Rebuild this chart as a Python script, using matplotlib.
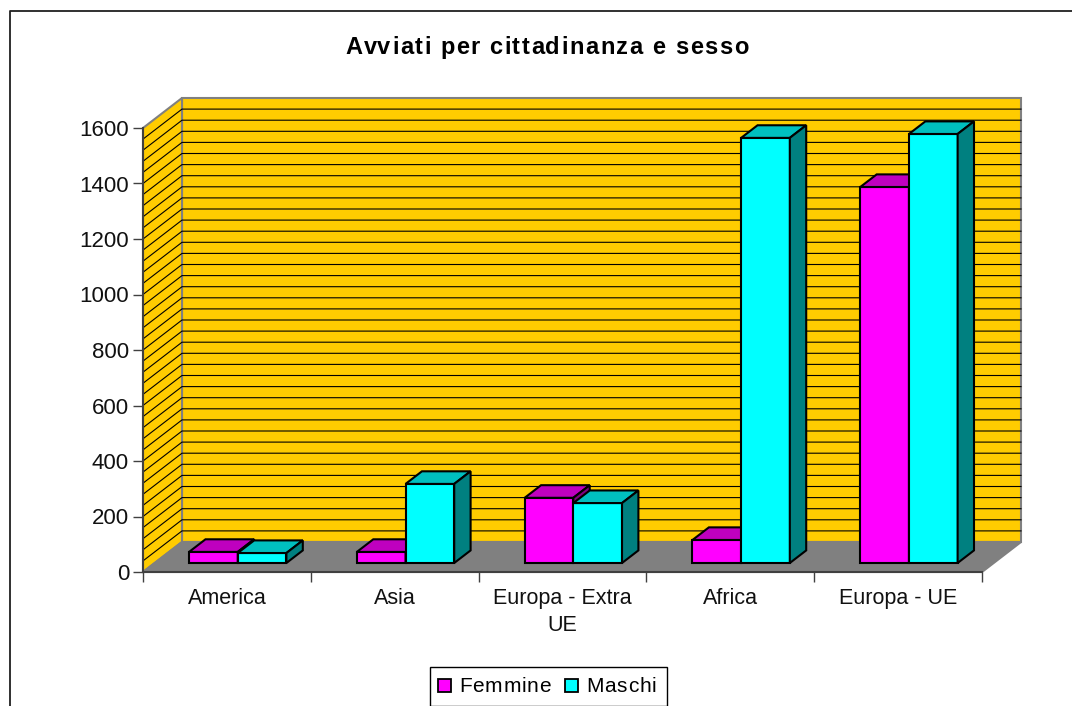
import numpy as np
import matplotlib
matplotlib.use('Agg')
import matplotlib.pyplot as plt
from matplotlib.patches import Polygon, Rectangle
from matplotlib.lines import Line2D

categories = ['America', 'Asia', 'Europa - Extra\nUE', 'Africa', 'Europa - UE']
femmine = [40, 40, 235, 83, 1355]
maschi = [36, 285, 216, 1532, 1546]
yticks = [0, 200, 400, 600, 800, 1000, 1200, 1400, 1600]
grid_step = 40

W, H = 1072, 706
plt.rcParams['font.family'] = ['Liberation Sans', 'DejaVu Sans']
fig = plt.figure(figsize=(W / 100, H / 100), dpi=100)
# only the left and top edges of the chart frame fall inside the crop
fig.add_artist(Line2D([9.5 / W, 9.5 / W, 1], [0, 1 - 11 / H, 1 - 11 / H], color='#202020', lw=1.3))

# front plane of the fake 3d box
ax = fig.add_axes([143 / W, 1 - 572 / H, 839 / W, 444 / H])
ax.set_xlim(0, 5)
ax.set_ylim(0, 1600)
ax.patch.set_visible(False)
for s in ax.spines.values():
    s.set_visible(False)

# depth vector in data units
ddx = 39 / 839 * 5
ddy = 30 / 444 * 1600


def pt(x, y, d):
    return (x + d * ddx, y + d * ddy)


def poly(points, fc, ec='black', lw=1.5, z=3):
    ax.add_patch(Polygon(points, closed=True, fc=fc, ec=ec, lw=lw, zorder=z, clip_on=False,
                         joinstyle='miter'))


wall = '#FFCC00'
grey = '#808080'
poly([pt(0, 0, 1), pt(5, 0, 1), pt(5, 1600, 1), pt(0, 1600, 1)], wall, grey, 1.5, 1)
poly([pt(0, 0, 0), pt(0, 0, 1), pt(0, 1600, 1), pt(0, 1600, 0)], wall, grey, 1.5, 1)
poly([pt(0, 0, 0), pt(5, 0, 0), pt(5, 0, 1), pt(0, 0, 1)], grey, grey, 1.5, 1)

for v in np.arange(grid_step, 1600, grid_step):
    ax.plot(*zip(pt(0, v, 0), pt(0, v, 1), pt(5, v, 1)), color='black', lw=0.8, zorder=2, clip_on=False)

ax.plot([0, 0], [0, 1600], color='#404040', lw=1.5, zorder=2, clip_on=False)
ax.plot([0, 5], [0, 0], color='#404040', lw=1.5, zorder=2, clip_on=False)


def bar3d(x0, x1, v, front, top, side):
    d0, d1 = 0.3, 0.72
    poly([pt(x0, 0, d0), pt(x1, 0, d0), pt(x1, v, d0), pt(x0, v, d0)], front)
    poly([pt(x0, v, d0), pt(x1, v, d0), pt(x1, v, d1), pt(x0, v, d1)], top)
    poly([pt(x1, 0, d0), pt(x1, 0, d1), pt(x1, v, d1), pt(x1, v, d0)], side)


bw = 0.29
for i in range(len(categories)):
    left = i + 0.205
    bar3d(left, left + bw, femmine[i], '#FF00FF', '#BF00BF', '#800080')
    bar3d(left + bw, left + 2 * bw, maschi[i], '#00FFFF', '#00BFBF', '#008080')

ax.set_xticks(range(6))
ax.set_xticklabels([])
ax.tick_params(axis='x', length=7, color='#404040', width=1)
for i, c in enumerate(categories):
    ax.text(i + 0.5, -58, c, ha='center', va='top', fontsize=15.5, linespacing=1.4, color='#111111')
ax.set_yticks(yticks)
ax.tick_params(axis='y', length=7, color='#404040', width=1, labelsize=16, labelcolor='#111111', pad=3)


def spaced(x, y, s, extra, **kw):
    # GDI style loose letter spacing: place the text one glyph at a time
    r = fig.canvas.get_renderer()
    for i, ch in enumerate(s):
        t = fig.text(0, 0, s[:i] + '|', **kw)
        w = t.get_window_extent(r).width
        t.set_text('|')
        w -= t.get_window_extent(r).width
        t.remove()
        fig.text((x + w + i * extra) / W, 1 - y / H, ch, va='baseline', **kw)


spaced(345, 54, 'Avviati per cittadinanza e sesso', 1.5, fontsize=17, fontweight='bold')

# legend box
fig.add_artist(Rectangle((429.5 / W, 1 - 706 / H), 237 / W, 39 / H, fc='white', ec='black', lw=1,
                         transform=fig.transFigure))
for x, tx, c, lab in [(438, 459, '#FF00FF', 'Femmine'), (565, 586, '#00FFFF', 'Maschi')]:
    fig.add_artist(Rectangle((x / W, 1 - 692 / H), 13 / W, 13 / H, fc=c, ec='black', lw=1.3,
                             transform=fig.transFigure))
    spaced(tx, 692, lab, 0.8, fontsize=15)

fig.savefig('out.png', dpi=100)
